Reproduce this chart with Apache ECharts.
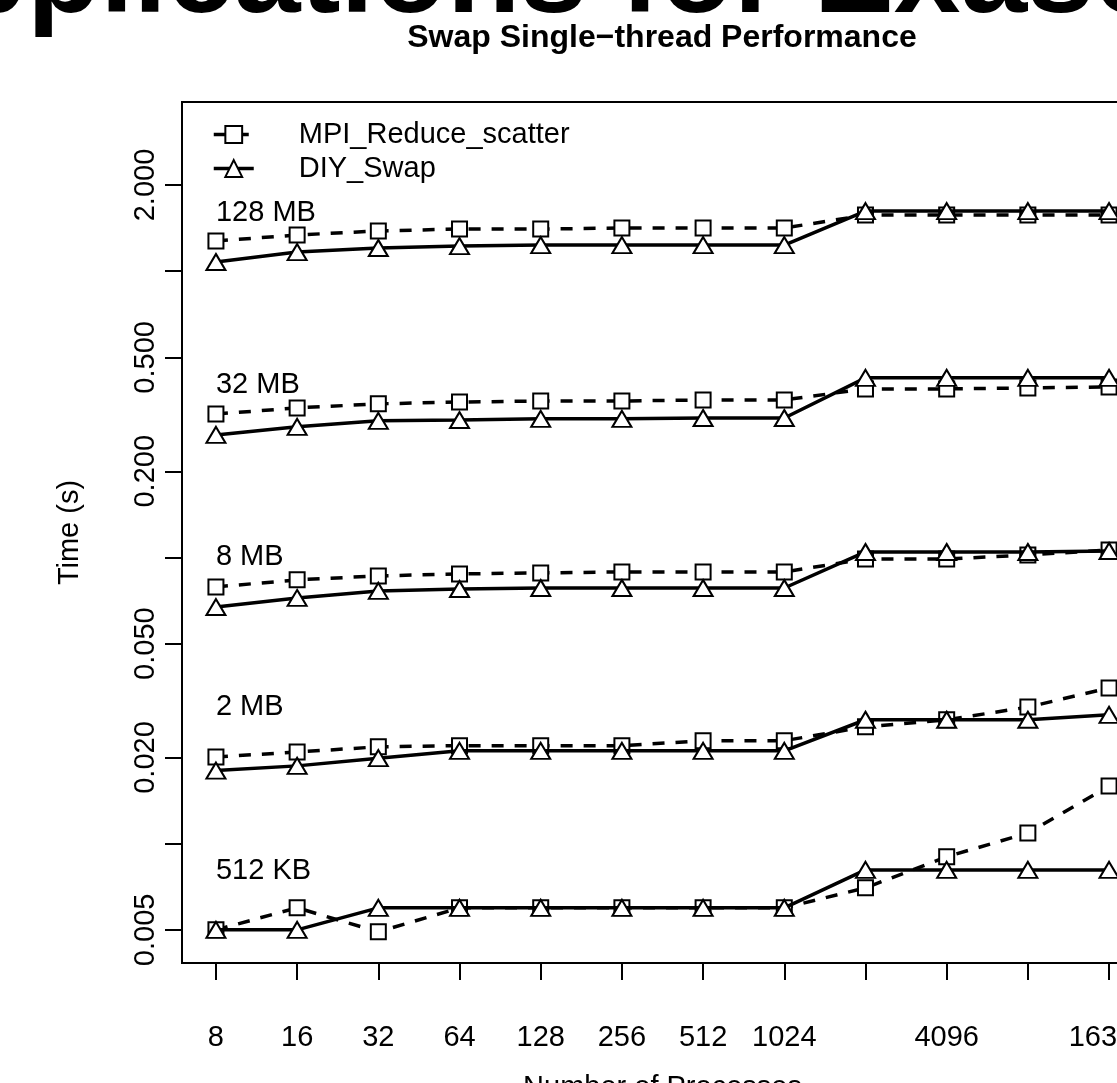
<!DOCTYPE html>
<html>
<head>
<meta charset="utf-8">
<title>Swap Single-thread Performance</title>
<script src="https://cdn.jsdelivr.net/npm/echarts@6/dist/echarts.min.js"></script>
<style>
  html, body { margin: 0; padding: 0; background: #fff; overflow: hidden; }
  #chart { width: 1160px; height: 1083px; }
</style>
</head>
<body>
<div id="chart"></div>
<script>
// number of processes (x, log2 axis)
const procs = [8, 16, 32, 64, 128, 256, 512, 1024, 2048, 4096, 8192, 16384]
const labeledProcs = [8, 16, 32, 64, 128, 256, 512, 1024, 4096, 16384]

// time in seconds
const mpi128 = [1.275, 1.338, 1.382, 1.404, 1.404, 1.415, 1.415, 1.415, 1.571, 1.571, 1.571, 1.571]
const diy128 = [1.077, 1.166, 1.205, 1.224, 1.234, 1.234, 1.234, 1.234, 1.622, 1.622, 1.622, 1.622]
const mpi32 = [0.317, 0.333, 0.344, 0.349, 0.352, 0.352, 0.355, 0.355, 0.388, 0.388, 0.391, 0.394]
const diy32 = [0.268, 0.286, 0.300, 0.302, 0.305, 0.305, 0.307, 0.307, 0.424, 0.424, 0.424, 0.424]
const mpi8 = [0.0789, 0.0835, 0.0862, 0.0876, 0.0883, 0.089, 0.089, 0.089, 0.0988, 0.0988, 0.102, 0.1062]
const diy8 = [0.0671, 0.0722, 0.0764, 0.0776, 0.0782, 0.0782, 0.0782, 0.0782, 0.1045, 0.1045, 0.1045, 0.1053]
const mpi2 = [0.0201, 0.0209, 0.0218, 0.022, 0.022, 0.022, 0.0229, 0.0229, 0.0256, 0.0271, 0.03, 0.035]
const diy2 = [0.018, 0.0187, 0.0199, 0.0211, 0.0211, 0.0211, 0.0211, 0.0211, 0.0271, 0.0271, 0.0271, 0.0282]
const mpi512k = [0.005, 0.00597, 0.00492, 0.00597, 0.00597, 0.00597, 0.00597, 0.00597, 0.00701, 0.009, 0.0109, 0.0159]
const diy512k = [0.005, 0.005, 0.00597, 0.00597, 0.00597, 0.00597, 0.00597, 0.00597, 0.0081, 0.0081, 0.0081, 0.0081]

// message size annotations
const sizeNames = ['128 MB', '32 MB', '8 MB', '2 MB', '512 KB']
const sizeLabelY = [1.6, 0.4, 0.1, 0.03, 0.008]

// y ticks
const yTicks = [0.005, 0.01, 0.02, 0.05, 0.1, 0.2, 0.5, 1, 2]
const yLabeled = [0.005, 0.02, 0.05, 0.2, 0.5, 2]

const FONT = 'Liberation Sans, Arial, Helvetica, sans-serif'
const pair = ys => procs.map((p, i) => [p, ys[i]])

const groups = [
  [mpi128, diy128],
  [mpi32, diy32],
  [mpi8, diy8],
  [mpi2, diy2],
  [mpi512k, diy512k],
]

const series = []
groups.forEach(([mpi, diy]) => {
  series.push({
    name: 'MPI_Reduce_scatter',
    type: 'line',
    data: pair(mpi),
    symbol: 'emptyRect',
    symbolSize: 15,
    lineStyle: { color: '#000', width: 3.5, type: [12, 11] },
    itemStyle: { color: '#000', borderWidth: 3 },
    z: 2,
  })
  series.push({
    name: 'DIY_Swap',
    type: 'line',
    data: pair(diy),
    symbol: 'emptyTriangle',
    symbolSize: [19, 16],
    lineStyle: { color: '#000', width: 3.5, type: 'solid' },
    itemStyle: { color: '#000', borderWidth: 3 },
    z: 3,
  })
})
series.push({
  name: 'sizes',
  type: 'scatter',
  silent: true,
  symbolSize: 0,
  itemStyle: { opacity: 1 },
  data: sizeNames.map((n, i) => ({ name: n, value: [procs[0], sizeLabelY[i]] })),
  label: {
    show: true,
    position: 'right',
    distance: 0,
    formatter: '{b}',
    color: '#000',
    opacity: 1,
    fontSize: 29,
    fontFamily: FONT,
  },
})

const chart = echarts.init(document.getElementById('chart'))
const option = {
  animation: false,
  backgroundColor: '#fff',
  graphic: [
    {
      type: 'text',
      x: -133,
      y: 39,
      style: {
        text: 'Applications for Exascale',
        font: 'bold 120px ' + FONT,
        fill: '#000',
        align: 'left',
        verticalAlign: 'bottom',
      },
    },
    {
      type: 'text',
      x: 662,
      y: 22,
      style: {
        text: 'Swap Single\u2212thread Performance',
        font: 'bold 32px ' + FONT,
        fill: '#000',
        align: 'center',
        verticalAlign: 'top',
      },
    },
  ],
  legend: {
    data: ['MPI_Reduce_scatter', 'DIY_Swap'],
    orient: 'vertical',
    left: 207,
    top: 115,
    itemWidth: 40,
    itemHeight: 21,
    itemGap: 5,
    lineStyle: { width: 3.5 },
    itemStyle: { borderWidth: 3 },
    textStyle: { color: '#000', fontSize: 29, fontFamily: FONT, padding: [0, 0, 0, 40] },
  },
  grid: {
    left: 182,
    top: 102,
    right: 17,
    bottom: 120,
    outerBoundsMode: 'none',
    show: true,
    borderColor: '#000',
    borderWidth: 2,
  },
  xAxis: {
    type: 'log',
    logBase: 2,
    min: 8 * Math.pow(2, -0.418),
    max: 16384 * Math.pow(2, 0.418),
    name: 'Number of Processes',
    nameLocation: 'middle',
    nameGap: 110,
    nameTextStyle: { color: '#000', fontSize: 29, fontFamily: FONT },
    axisLine: { show: false },
    splitLine: { show: false },
    axisTick: { customValues: procs, length: 17, lineStyle: { color: '#000', width: 2 } },
    axisLabel: {
      customValues: labeledProcs,
      color: '#000',
      fontSize: 29,
      fontFamily: FONT,
      margin: 60,
      formatter: v => String(Math.round(v)),
    },
  },
  yAxis: {
    type: 'log',
    logBase: 10,
    min: 0.00383,
    max: 3.9,
    name: 'Time (s)',
    nameLocation: 'middle',
    nameGap: 98,
    nameRotate: 90,
    nameTextStyle: { color: '#000', fontSize: 29, fontFamily: FONT },
    axisLine: { show: false },
    splitLine: { show: false },
    axisTick: { customValues: yTicks, length: 17, lineStyle: { color: '#000', width: 2 } },
    axisLabel: {
      customValues: yLabeled,
      rotate: 90,
      color: '#000',
      fontSize: 29,
      fontFamily: FONT,
      margin: 22,
      formatter: v => Number(v).toFixed(3),
    },
  },
  series: series,
}
chart.setOption(option)
</script>
</body>
</html>
